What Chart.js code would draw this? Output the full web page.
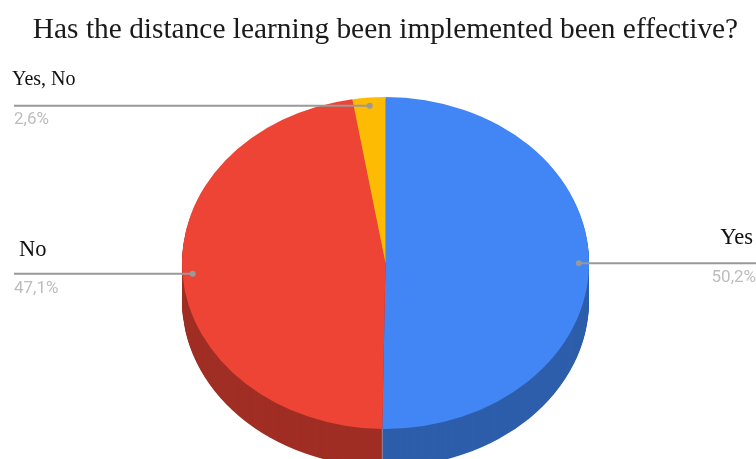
<!DOCTYPE html>
<html>
<head>
<meta charset="utf-8">
<style>
  html, body { margin: 0; padding: 0; background: #fff; }
  canvas { display: block; }
</style>
<script src="https://cdn.jsdelivr.net/npm/chart.js@4"></script>
</head>
<body>
<canvas id="chart" width="756" height="459"></canvas>
<script>
// Data
const titleText = "Has the distance learning been implemented been effective?";
const categories = ["Yes", "No", "Yes, No"];
const shares = [50.2, 47.1, 2.6];
const topColors = ["#4285f4", "#ee4435", "#fdbb04"];
const sideColors = ["#2d5eab", "#a02e24", "#b18303"];

// Pie is drawn as a circle by Chart.js, then squashed to look tilted
const pieCenterY = 263;
const pieSquash = 166 / 203.5;
const pieDepth = 38;

// Where the callout text goes
const calloutStyle = {
  "Yes": { lineEnd: 756, nudge: -1, nameSize: 22.5, nameX: 753, nameAlign: "right", nameY: 244, valueX: 756, valueAlign: "right", valueY: 282 },
  "No": { lineEnd: 14, nudge: -1, nameSize: 22.5, nameX: 19, nameAlign: "left", nameY: 256, valueX: 14, valueAlign: "left", valueY: 293 },
  "Yes, No": { lineEnd: 14, nudge: 0, nameSize: 20, nameX: 12, nameAlign: "left", nameY: 85, valueX: 14, valueAlign: "left", valueY: 124 },
};

function squash(ctx, arc) {
  ctx.translate(0, pieCenterY);
  ctx.scale(1, pieSquash);
  ctx.translate(0, -arc.y);
}

const tiltedPie = {
  id: "tiltedPie",
  beforeDatasetsDraw(chart) {
    const ctx = chart.ctx;
    const arcs = chart.getDatasetMeta(0).data;

    // side wall: the same sectors stacked downwards in a darker colour
    for (let dy = pieDepth; dy > 0; dy--) {
      arcs.forEach((arc, i) => {
        ctx.save();
        ctx.translate(0, dy);
        squash(ctx, arc);
        ctx.fillStyle = sideColors[i];
        ctx.beginPath();
        ctx.moveTo(arc.x, arc.y);
        ctx.arc(arc.x, arc.y, arc.outerRadius, arc.startAngle, arc.endAngle);
        ctx.closePath();
        ctx.fill();
        ctx.restore();
      });
    }

    // thin seam where Yes meets No on the wall
    const seam = arcs[0];
    const seamX = seam.x + seam.outerRadius * Math.cos(seam.endAngle);
    const seamY = pieCenterY + seam.outerRadius * pieSquash * Math.sin(seam.endAngle);
    ctx.save();
    ctx.strokeStyle = "rgba(255,255,255,0.35)";
    ctx.lineWidth = 1;
    ctx.beginPath();
    ctx.moveTo(seamX, seamY);
    ctx.lineTo(seamX, seamY + pieDepth);
    ctx.stroke();
    ctx.restore();

    ctx.save();
    squash(ctx, arcs[0]);
  },
  afterDatasetsDraw(chart) {
    const ctx = chart.ctx;
    ctx.restore();

    const arcs = chart.getDatasetMeta(0).data;
    arcs.forEach((arc, i) => {
      const style = calloutStyle[categories[i]];
      const mid = (arc.startAngle + arc.endAngle) / 2;
      const dotX = arc.x + 0.95 * arc.outerRadius * Math.cos(mid);
      const dotY = pieCenterY + 0.95 * arc.outerRadius * pieSquash * Math.sin(mid) + style.nudge;

      ctx.save();
      ctx.strokeStyle = "#999999";
      ctx.lineWidth = 2;
      ctx.beginPath();
      ctx.moveTo(style.lineEnd, dotY);
      ctx.lineTo(dotX, dotY);
      ctx.stroke();
      ctx.fillStyle = "#999999";
      ctx.beginPath();
      ctx.arc(dotX, dotY, 3, 0, Math.PI * 2);
      ctx.fill();

      ctx.fillStyle = "#111111";
      ctx.font = style.nameSize + "px 'Liberation Serif'";
      ctx.textAlign = style.nameAlign;
      ctx.fillText(categories[i], style.nameX, style.nameY);

      ctx.fillStyle = "#bdbdbd";
      ctx.font = "17px Roboto";
      ctx.textAlign = style.valueAlign;
      ctx.fillText(shares[i].toFixed(1).replace(".", ",") + "%", style.valueX, style.valueY);
      ctx.restore();
    });
  },
};

new Chart(document.getElementById("chart"), {
  type: "pie",
  data: {
    labels: categories,
    datasets: [
      {
        data: shares,
        backgroundColor: topColors,
        borderWidth: 0,
        clip: false,
      },
    ],
  },
  options: {
    responsive: false,
    animation: false,
    layout: { padding: { left: 15 } },
    plugins: {
      legend: { display: false },
      tooltip: { enabled: false },
      title: {
        display: true,
        text: titleText,
        color: "#1a1a1a",
        font: { family: "'Liberation Serif'", size: 29.4, weight: "normal", lineHeight: 1.2 },
        padding: { top: 12.5, bottom: 4.2 },
      },
    },
  },
  plugins: [tiltedPie],
});
</script>
</body>
</html>
